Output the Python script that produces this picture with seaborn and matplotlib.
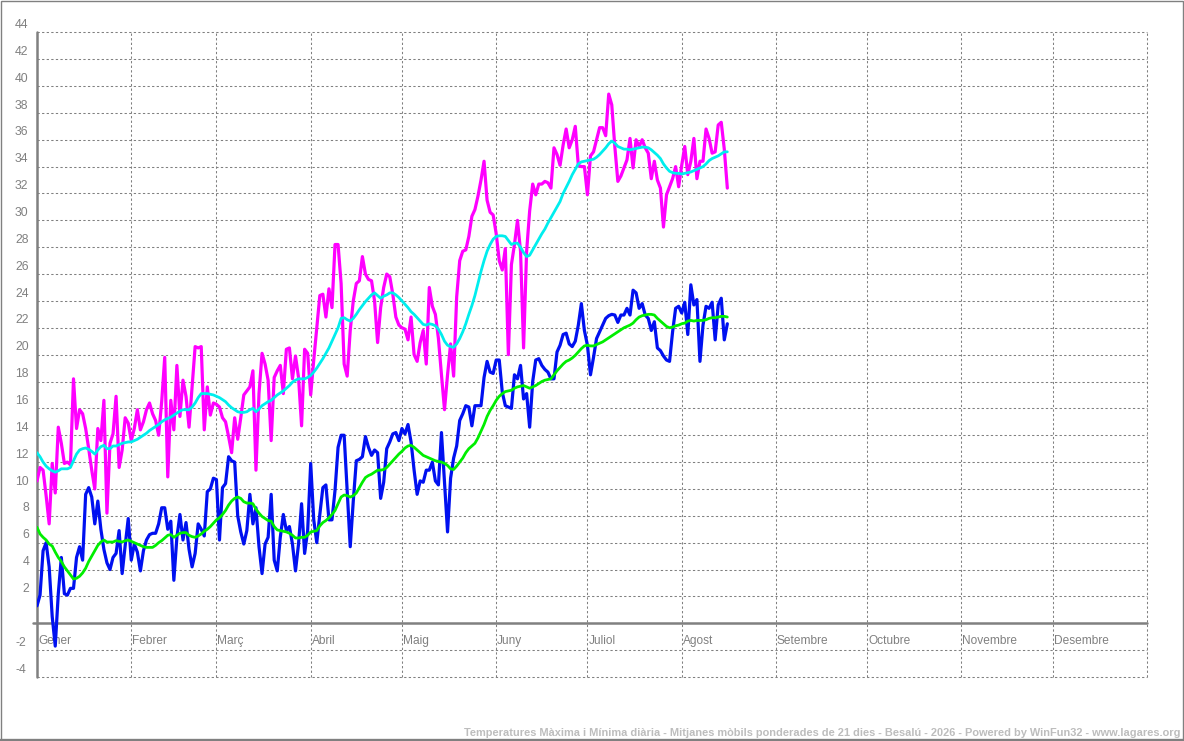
import matplotlib
matplotlib.use("Agg")
import matplotlib.pyplot as plt
import matplotlib.transforms as mtransforms
from matplotlib.patches import Rectangle
from matplotlib.lines import Line2D
import seaborn as sns

# ---------------- data ----------------
MONTH_LABELS = ["Gener", "Febrer", "Març", "Abril", "Maig", "Juny", "Juliol",
                "Agost", "Setembre", "Octubre", "Novembre", "Desembre"]
MONTH_START_DAY = [0, 31, 59, 90, 120, 151, 181, 212, 243, 273, 304, 334]
YEAR_DAYS = 365
Y_TICKS = [-4, -2, 2, 4, 6, 8, 10, 12, 14, 16, 18, 20, 22, 24, 26, 28, 30,
           32, 34, 36, 38, 40, 42, 44]

TITLE = ("Temperatures Màxima i Mínima diària - Mitjanes mòbils ponderades de 21 dies"
         " - Besalú - 2026 - Powered by WinFun32 - www.lagares.org")

# daily maximum temperature (from Jan 1)
TMAX = [
    10.6, 11.6, 11.4, 9.5, 7.4, 11.9, 9.7, 14.6, 13.4, 11.9,
    12.0, 11.8, 18.2, 14.5, 15.9, 15.6, 14.5, 13.0, 11.4, 10.0,
    14.5, 13.6, 16.6, 8.2, 13.4, 14.1, 16.9, 11.6, 12.9, 15.3,
    14.9, 13.6, 14.5, 15.9, 14.4, 15.0, 15.9, 16.4, 15.6, 15.1,
    14.0, 16.5, 19.8, 10.9, 16.6, 14.4, 19.2, 15.4, 18.1, 16.9,
    14.6, 17.6, 20.6, 20.5, 20.6, 14.4, 17.6, 15.5, 16.4, 16.3,
    16.1, 15.3, 15.0, 13.9, 12.7, 15.3, 13.7, 15.3, 17.0, 17.3,
    17.6, 18.8, 11.4, 17.1, 20.1, 19.3, 18.1, 13.6, 18.3, 18.8,
    19.2, 17.1, 20.4, 20.5, 18.2, 19.9, 18.3, 14.7, 20.4, 20.1,
    17.0, 19.6, 22.0, 24.4, 24.5, 22.8, 24.9, 23.5, 28.2, 28.2,
    25.3, 19.3, 18.4, 21.8, 24.0, 25.3, 25.5, 27.3, 26.0, 25.6,
    25.5, 24.0, 20.9, 23.5, 25.0, 26.0, 25.8, 24.5, 22.8, 22.2,
    22.0, 21.9, 21.1, 22.8, 20.0, 19.5, 20.9, 21.8, 19.3, 25.0,
    23.6, 23.0, 21.2, 18.5, 15.9, 18.5, 20.8, 18.4, 24.3, 27.0,
    27.7, 27.8, 28.8, 30.3, 30.8, 31.8, 33.0, 34.4, 31.5, 30.6,
    30.4, 29.0, 27.0, 26.3, 27.9, 20.0, 26.7, 28.2, 30.0, 27.7,
    20.5, 27.7, 30.7, 32.7, 31.9, 32.7, 32.7, 32.9, 32.8, 32.4,
    35.4, 34.9, 34.1, 35.6, 36.8, 35.4, 36.0, 37.0, 34.1, 34.0,
    34.0, 31.9, 34.8, 35.1, 36.0, 36.9, 36.9, 36.3, 39.4, 38.6,
    35.5, 32.9, 33.3, 33.9, 34.5, 36.1, 33.9, 36.0, 35.5, 36.0,
    35.4, 35.0, 33.1, 34.4, 33.0, 32.4, 29.5, 31.9, 32.5, 33.1,
    34.0, 32.5, 34.1, 35.5, 33.4, 34.4, 36.1, 33.1, 34.4, 34.4,
    36.8, 36.1, 35.0, 35.1, 37.1, 37.3, 35.3, 32.4,
]

# daily minimum temperature
TMIN = [
    1.3, 2.1, 5.4, 6.0, 4.2, 0.5, -1.7, 2.2, 4.9, 2.2,
    2.1, 2.6, 2.6, 4.9, 5.7, 4.7, 9.6, 10.1, 9.4, 7.4,
    9.1, 7.0, 5.5, 4.5, 4.0, 4.9, 5.2, 6.9, 3.7, 5.8,
    7.8, 4.7, 5.9, 5.3, 3.9, 5.4, 6.2, 6.6, 6.7, 6.7,
    7.4, 8.6, 8.6, 7.0, 7.6, 3.2, 6.4, 8.1, 6.2, 7.5,
    5.5, 4.2, 5.2, 7.4, 7.0, 6.5, 9.8, 10.0, 10.8, 10.7,
    6.2, 10.1, 10.4, 12.4, 12.1, 12.0, 8.0, 6.8, 5.9, 6.9,
    9.6, 7.4, 8.6, 5.7, 3.7, 5.9, 6.4, 9.6, 4.7, 3.9,
    6.4, 8.1, 6.9, 7.2, 5.9, 3.9, 5.9, 8.9, 5.2, 6.9,
    11.9, 7.7, 6.0, 8.1, 10.1, 10.3, 7.7, 7.7, 9.9, 13.1,
    14.0, 14.0, 9.9, 5.7, 9.1, 12.1, 12.2, 12.4, 13.9, 13.1,
    12.5, 12.9, 12.7, 9.3, 10.5, 13.0, 13.5, 14.1, 14.2, 13.6,
    14.5, 14.1, 14.8, 13.5, 11.4, 9.6, 10.6, 10.5, 11.4, 11.4,
    12.0, 10.6, 10.3, 14.2, 10.5, 6.8, 10.8, 12.3, 13.2, 15.1,
    15.6, 16.2, 16.1, 14.7, 16.2, 16.2, 16.2, 18.3, 19.5, 18.7,
    18.6, 19.6, 19.6, 17.2, 16.2, 16.1, 16.0, 18.5, 18.2, 19.2,
    16.7, 17.1, 14.6, 18.0, 19.6, 19.7, 19.2, 18.9, 18.7, 18.2,
    18.2, 20.2, 20.7, 21.5, 21.6, 20.8, 20.6, 21.0, 22.2, 23.8,
    21.8, 20.7, 18.5, 19.8, 21.2, 21.7, 22.2, 22.7, 22.9, 23.0,
    22.95, 22.4, 22.95, 22.95, 23.45, 22.95, 24.8, 24.6, 23.45, 23.8,
    22.95, 22.7, 21.8, 22.45, 20.5, 20.3, 19.9, 19.6, 19.5, 21.7,
    23.45, 23.6, 23.1, 23.9, 21.5, 25.2, 23.7, 24.1, 19.5, 22.2,
    23.6, 23.45, 23.9, 21.1, 23.7, 24.2, 21.1, 22.3,
]

# 21-day weighted moving average of the maximum
TMAX_AVG = [
    12.7, 12.4, 12.0, 11.7, 11.5, 11.35, 11.25, 11.35, 11.5, 11.5,
    11.5, 11.6, 12.1, 12.6, 12.9, 13.0, 13.05, 12.95, 12.8, 12.6,
    12.9, 13.15, 13.25, 13.0, 13.0, 13.2, 13.2, 13.3, 13.4, 13.45,
    13.5, 13.5, 13.6, 13.7, 13.85, 14.0, 14.15, 14.35, 14.5, 14.65,
    14.8, 15.0, 15.15, 15.25, 15.35, 15.5, 15.65, 15.8, 15.9, 15.9,
    15.9, 16.1, 16.4, 16.8, 17.1, 17.1, 17.1, 17.05, 17.0, 16.9,
    16.8, 16.65, 16.5, 16.25, 16.05, 15.9, 15.75, 15.7, 15.7, 15.75,
    15.9, 16.0, 15.75, 15.95, 16.2, 16.35, 16.5, 16.6, 16.8, 17.0,
    17.15, 17.3, 17.5, 17.7, 17.95, 18.1, 18.2, 18.2, 18.2, 18.3,
    18.45, 18.7, 19.0, 19.35, 19.7, 20.1, 20.5, 21.0, 21.5, 22.0,
    22.7, 22.75, 22.6, 22.5, 22.7, 23.0, 23.35, 23.65, 23.95, 24.2,
    24.45, 24.6, 24.4, 24.2, 24.35, 24.45, 24.6, 24.6, 24.45, 24.25,
    24.0, 23.75, 23.5, 23.2, 23.0, 22.75, 22.5, 22.25, 22.2, 22.3,
    22.25, 22.15, 21.9, 21.5, 21.0, 20.7, 20.6, 20.55, 20.8, 21.2,
    21.7, 22.3, 23.0, 23.65, 24.4, 25.3, 26.2, 27.0, 27.7, 28.2,
    28.6, 28.8, 28.85, 28.85, 28.8, 28.5, 28.2, 28.3, 28.3, 28.0,
    27.6, 27.3, 27.4, 27.8, 28.2, 28.6, 29.0, 29.35, 29.8, 30.2,
    30.6, 31.0, 31.4, 32.0, 32.45, 32.9, 33.4, 33.8, 34.2, 34.35,
    34.4, 34.45, 34.5, 34.55, 34.7, 34.9, 35.15, 35.4, 35.7, 35.9,
    35.75, 35.5, 35.4, 35.3, 35.3, 35.25, 35.3, 35.35, 35.4, 35.45,
    35.45, 35.4, 35.25, 35.05, 34.85, 34.6, 34.2, 33.9, 33.65, 33.55,
    33.5, 33.5, 33.45, 33.5, 33.55, 33.6, 33.7, 33.8, 33.9, 34.0,
    34.2, 34.45, 34.6, 34.7, 34.8, 34.95, 35.1, 35.1,
]

# 21-day weighted moving average of the minimum
TMIN_AVG = [
    7.15, 6.65, 6.4, 6.2, 5.9, 5.75, 5.3, 4.9, 4.6, 4.2,
    3.9, 3.6, 3.3, 3.35, 3.5, 3.75, 4.1, 4.6, 5.0, 5.4,
    5.8, 6.05, 6.2, 6.05, 6.05, 6.05, 6.15, 6.1, 6.05, 6.15,
    6.2, 6.1, 6.0, 5.9, 5.8, 5.7, 5.65, 5.65, 5.65, 5.8,
    6.0, 6.15, 6.35, 6.55, 6.6, 6.4, 6.55, 6.7, 6.75, 6.75,
    6.55, 6.45, 6.4, 6.5, 6.65, 6.85, 7.0, 7.2, 7.45, 7.7,
    7.85, 8.1, 8.4, 8.8, 9.1, 9.3, 9.4, 9.3, 9.05, 8.95,
    8.95, 8.9, 8.5, 8.2, 7.95, 7.8, 7.65, 7.6, 7.2, 6.95,
    6.9, 6.85, 6.8, 6.7, 6.55, 6.35, 6.35, 6.4, 6.4, 6.55,
    6.8, 6.85, 6.9, 7.25, 7.5, 7.65, 7.85, 8.1, 8.4, 8.9,
    9.4, 9.55, 9.5, 9.4, 9.5, 9.7, 10.1, 10.5, 10.85, 11.0,
    11.1, 11.25, 11.4, 11.4, 11.45, 11.6, 11.85, 12.1, 12.35, 12.6,
    12.8, 13.05, 13.2, 13.25, 13.1, 12.9, 12.7, 12.5, 12.4, 12.3,
    12.2, 12.1, 12.05, 12.0, 11.9, 11.75, 11.5, 11.45, 11.7, 12.0,
    12.3, 12.7, 13.0, 13.2, 13.4, 13.8, 14.3, 14.8, 15.4, 15.85,
    16.2, 16.6, 16.9, 17.1, 17.25, 17.3, 17.35, 17.5, 17.6, 17.65,
    17.7, 17.6, 17.5, 17.6, 17.7, 17.85, 18.0, 18.1, 18.15, 18.2,
    18.5, 18.8, 19.05, 19.3, 19.5, 19.6, 19.75, 19.95, 20.2, 20.45,
    20.65, 20.7, 20.65, 20.65, 20.75, 20.85, 20.95, 21.1, 21.25, 21.4,
    21.55, 21.7, 21.85, 22.0, 22.1, 22.2, 22.35, 22.6, 22.8, 22.9,
    22.95, 23.0, 23.0, 22.95, 22.7, 22.5, 22.3, 22.1, 22.0, 22.05,
    22.15, 22.2, 22.3, 22.35, 22.5, 22.55, 22.5, 22.55, 22.55, 22.55,
    22.6, 22.7, 22.75, 22.75, 22.8, 22.85, 22.85, 22.8,
]

# ---------------- styling ----------------
sns.set_style("white")
plt.rcParams["font.family"] = ["Liberation Sans", "DejaVu Sans"]

W, H = 1184, 741
GRAY = "#808080"
fig = plt.figure(figsize=(W / 100, H / 100), dpi=100)
fig.patch.set_facecolor("white")

left_px, right_px, top_px, bot_px = 37, 1147, 32.3, 677
ax = fig.add_axes([left_px / W, 1 - bot_px / H, (right_px - left_px) / W,
                   (bot_px - top_px) / H])
ax.set_facecolor("white")
ax.set_xlim(0, YEAR_DAYS)
ax.set_ylim(-4, 44)
for s in ax.spines.values():
    s.set_visible(False)
ax.set_xticks([])
ax.set_yticks([])
ax.grid(False)

dash = (0, (2.2, 2.2))
for v in Y_TICKS:
    ax.axhline(v, color=GRAY, lw=0.75, ls=dash, zorder=1, clip_on=False)
for m in MONTH_START_DAY[1:] + [YEAR_DAYS]:
    ax.axvline(m, color=GRAY, lw=0.75, ls=dash, zorder=1, clip_on=False)

blend = mtransforms.blended_transform_factory(ax.transAxes, ax.transData)
# left axis and zero line
ax.axvline(0, color=GRAY, lw=1.8, zorder=2, clip_on=False)
ax.plot([(33 - left_px) / (right_px - left_px), 1], [0, 0], transform=blend,
        color=GRAY, lw=1.8, zorder=2, clip_on=False)

# y labels (placed slightly above each gridline)
for v in Y_TICKS:
    lab = str(v)
    xpx = 15 if len(lab) == 2 else 22.5
    ax.text((xpx - left_px) / (right_px - left_px), v + 0.55, lab,
            transform=blend, ha="left", va="center", fontsize=8.8,
            color=GRAY, clip_on=False)

# month labels
for d, lab in zip(MONTH_START_DAY, MONTH_LABELS):
    ax.text(d + 0.3, -1.3, lab, ha="left", va="center", fontsize=8.6,
            color=GRAY, zorder=2)

# series
days_max = list(range(len(TMAX)))
days_min = list(range(len(TMIN)))
days_maxavg = list(range(len(TMAX_AVG)))
days_minavg = list(range(len(TMIN_AVG)))

sns.lineplot(x=days_max, y=TMAX, color="#FF00FF", linewidth=2.3, ax=ax, zorder=3)
sns.lineplot(x=days_min, y=TMIN, color="#0010F0", linewidth=2.3, ax=ax, zorder=3)
sns.lineplot(x=days_maxavg, y=TMAX_AVG, color="#00EEEE", linewidth=2.0, ax=ax, zorder=4)
sns.lineplot(x=days_minavg, y=TMIN_AVG, color="#00EE00", linewidth=2.0, ax=ax, zorder=4)
ax.set_xlim(0, YEAR_DAYS)
ax.set_ylim(-4, 44)
ax.set_xlabel("")
ax.set_ylabel("")
if ax.get_legend() is not None:
    ax.get_legend().remove()

# footer title
fig.text(1181 / W, 1 - 733 / H, TITLE, ha="right", va="center",
         fontsize=7.9, color="#bdbdbd", fontweight="bold")

# outer frame
fig.add_artist(Rectangle((0.5 / W, 0.5 / H), (W - 1.5) / W, (H - 1.5) / H,
                         transform=fig.transFigure, fill=False,
                         edgecolor=GRAY, lw=1.0))
fig.add_artist(Line2D([0, 1], [1.5 / H, 1.5 / H], transform=fig.transFigure,
                      color=GRAY, lw=2.4))

fig.savefig("out.png", dpi=100, facecolor="white")
